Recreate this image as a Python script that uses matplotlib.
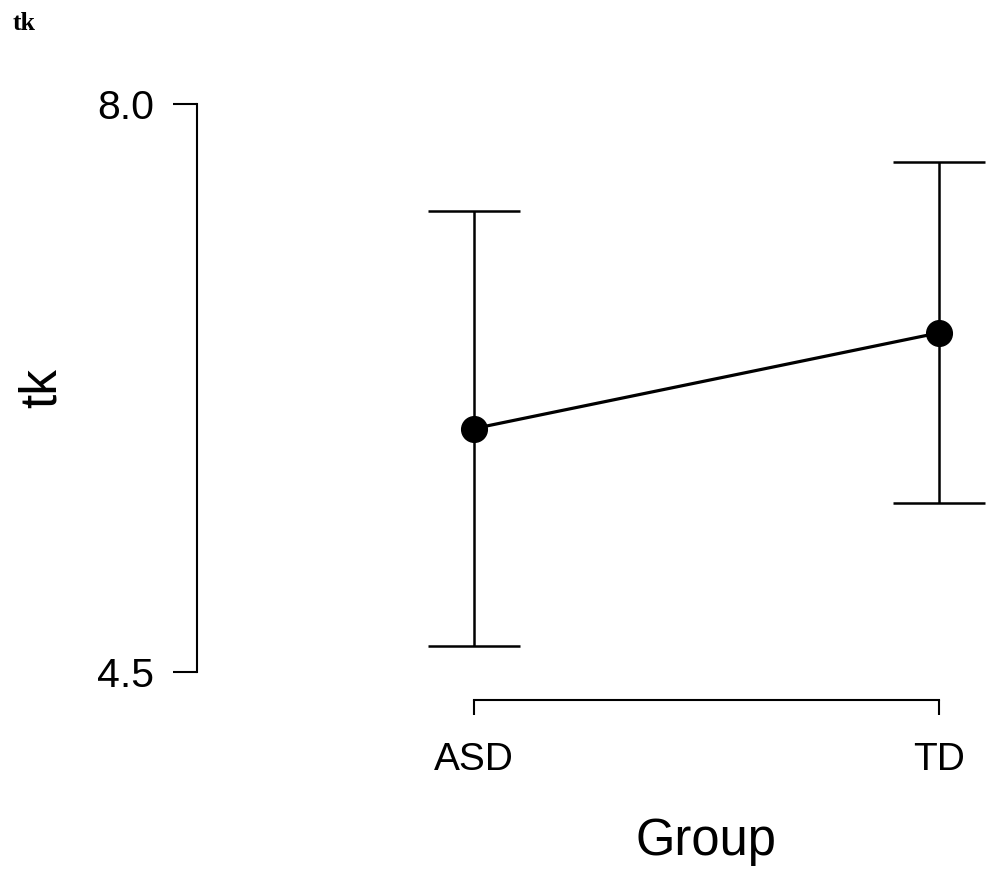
import numpy as np
import matplotlib
matplotlib.use("Agg")
from matplotlib import pyplot as plt

groups = ["ASD", "TD"]
means = [6.00, 6.59]
ci_lower = [4.66, 5.54]
ci_upper = [7.34, 7.64]
y_ticks = [4.5, 8.0]
y_tick_labels = ["4.5", "8.0"]

plt.rcParams['font.family'] = ['Liberation Sans', 'DejaVu Sans']

fig = plt.figure(figsize=(9.86, 8.71), dpi=100)
ax = fig.add_axes([0.1998, 0.1963, 0.8002, 0.6843])

x = np.arange(len(groups))
means = np.array(means)
err = np.vstack([means - np.array(ci_lower), np.array(ci_upper) - means])

ax.errorbar(x, means, yerr=err, fmt='none', ecolor='black', elinewidth=1.8,
            capsize=33, capthick=1.8, zorder=2)
ax.plot(x, means, color='black', linewidth=2.3, marker='o', markersize=18.5,
        markerfacecolor='black', zorder=3)

ax.set_xlim(-0.5957, 1.101)
ax.set_ylim(4.3275, 8.0)

for side in ['top', 'right']:
    ax.spines[side].set_visible(False)
ax.spines['left'].set_bounds(4.5, 8.0)
ax.spines['bottom'].set_bounds(0, 1)
ax.spines['left'].set_linewidth(1.5)
ax.spines['bottom'].set_linewidth(1.5)

ax.set_yticks(y_ticks)
ax.set_yticklabels(y_tick_labels)
ax.set_xticks(x)
ax.set_xticklabels(groups)
ax.tick_params(axis='y', direction='out', length=17, width=1.5, pad=14, labelsize=29.5)
ax.tick_params(axis='x', direction='out', length=11, width=1.5, pad=19, labelsize=28)

# axis titles, centred on the spine extents
fig.text(0.0426, 0.5545, "tk", fontsize=37, rotation=90,
         ha='center', va='center')
fig.text(0.716, 0.0184, "Group", fontsize=36.5, ha='center', va='baseline')

fig.text(0.013, 0.9656, "tk", fontsize=18.5, fontweight='bold',
         family=['Liberation Serif', 'DejaVu Serif'], va='baseline', ha='left')

fig.savefig("out.png", dpi=100)
